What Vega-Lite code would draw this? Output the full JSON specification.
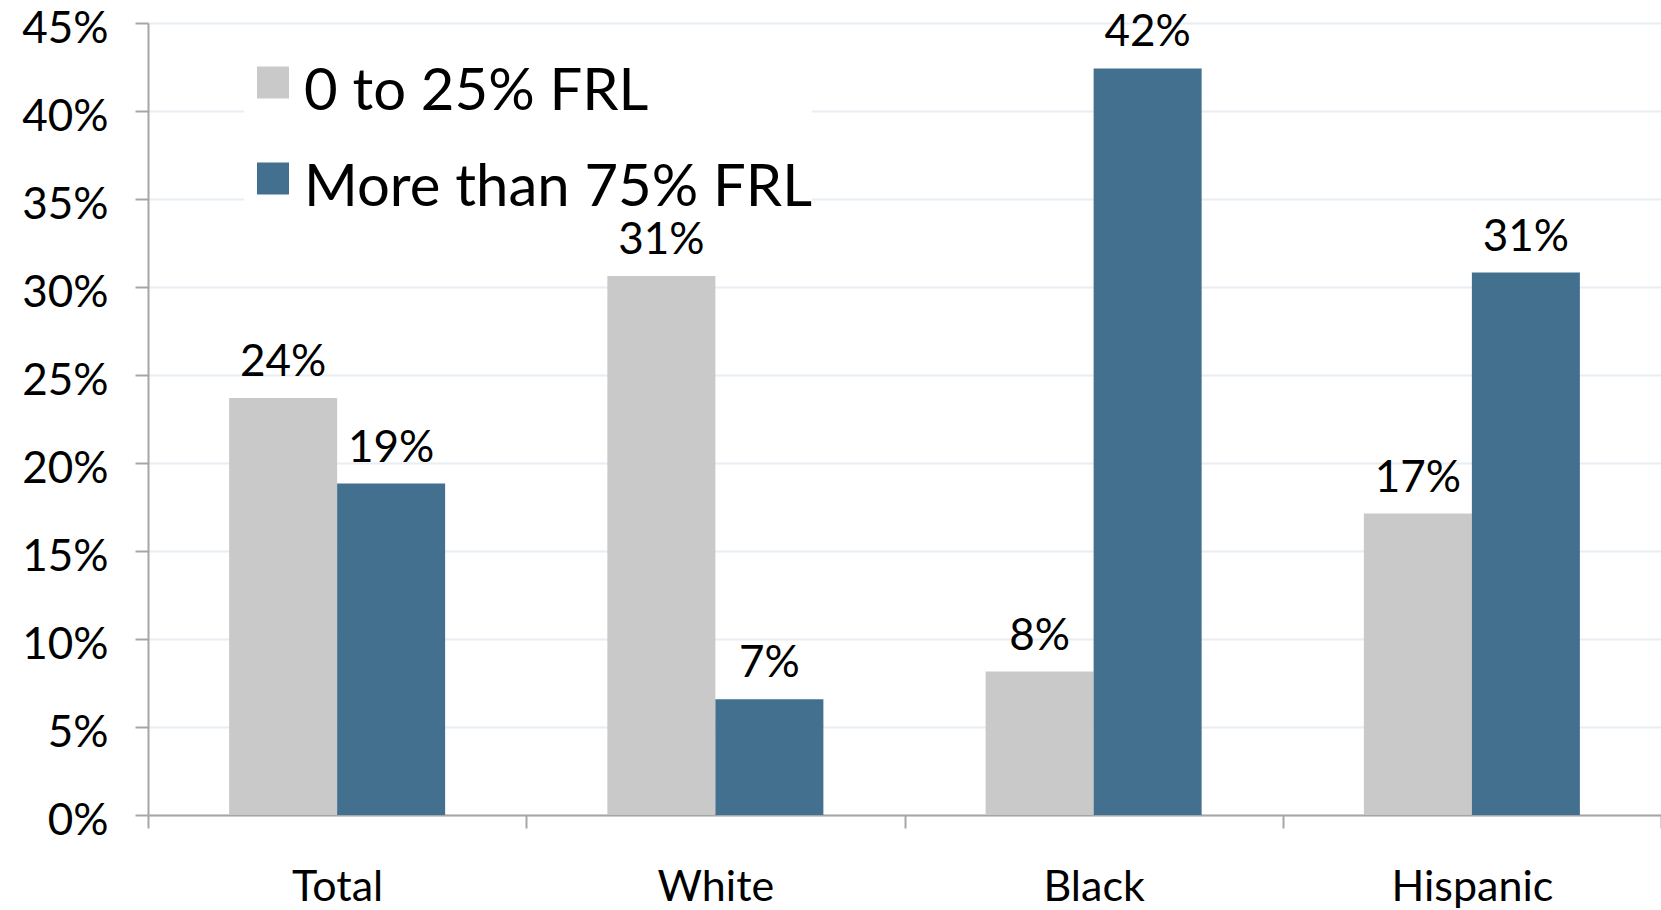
{
  "$schema": "https://vega.github.io/schema/vega-lite/v6.json",
  "width": 1513,
  "height": 792,
  "autosize": {"type": "none"},
  "padding": {"left": 148, "top": 23, "right": 0, "bottom": 95},
  "background": "white",
  "config": {
    "font": "Lato",
    "view": {"stroke": null}
  },
  "data": {
    "values": [
      {"group": "Total", "series": "0 to 25% FRL", "value": 0.2370},
      {"group": "Total", "series": "More than 75% FRL", "value": 0.1883},
      {"group": "White", "series": "0 to 25% FRL", "value": 0.3062},
      {"group": "White", "series": "More than 75% FRL", "value": 0.0657},
      {"group": "Black", "series": "0 to 25% FRL", "value": 0.0815},
      {"group": "Black", "series": "More than 75% FRL", "value": 0.4242},
      {"group": "Hispanic", "series": "0 to 25% FRL", "value": 0.1713},
      {"group": "Hispanic", "series": "More than 75% FRL", "value": 0.3082}
    ]
  },
  "encoding": {
    "x": {
      "field": "group",
      "type": "nominal",
      "sort": ["Total", "White", "Black", "Hispanic"],
      "scale": {"paddingInner": 0, "paddingOuter": 0},
      "axis": {
        "title": null,
        "labelAngle": 0,
        "labelFontSize": 43,
        "labelColor": "#000000",
        "labelPadding": 38,
        "tickBand": "extent",
        "tickSize": 13,
        "tickColor": "#a6a6a6",
        "tickWidth": 2,
        "domainColor": "#a6a6a6",
        "domainWidth": 2,
        "grid": false
      }
    },
    "xOffset": {
      "field": "series",
      "type": "nominal",
      "sort": ["0 to 25% FRL", "More than 75% FRL"],
      "scale": {"paddingInner": 0, "paddingOuter": 0.751}
    },
    "y": {
      "field": "value",
      "type": "quantitative",
      "scale": {"domain": [0, 0.45], "nice": false},
      "axis": {
        "title": null,
        "format": ".0%",
        "values": [0, 0.05, 0.1, 0.15, 0.2, 0.25, 0.3, 0.35, 0.4, 0.45],
        "labelFontSize": 44,
        "labelColor": "#000000",
        "labelPadding": 27,
        "labelOffset": 6,
        "tickSize": 13,
        "tickColor": "#a6a6a6",
        "tickWidth": 2,
        "domainColor": "#a6a6a6",
        "domainWidth": 2,
        "grid": true,
        "gridColor": "#e8eef3",
        "gridWidth": 2
      }
    }
  },
  "layer": [
    {
      "mark": {"type": "bar"},
      "encoding": {
        "color": {
          "field": "series",
          "type": "nominal",
          "scale": {
            "domain": ["0 to 25% FRL", "More than 75% FRL"],
            "range": ["#c9c9c9", "#43708e"]
          },
          "legend": {
            "title": null,
            "orient": "none",
            "legendX": 96,
            "legendY": 41,
            "symbolType": "M-1,-1.66H1V0.34H-1Z",
            "symbolSize": 1024,
            "symbolStrokeWidth": 0,
            "labelFontSize": 58,
            "labelColor": "#000000",
            "labelOffset": 2,
            "labelLimit": 800,
            "rowPadding": 38,
            "padding": 0,
            "fillColor": "white",
            "strokeColor": null
          }
        }
      }
    },
    {
      "mark": {"type": "text", "baseline": "alphabetic", "dy": -22, "fontSize": 44, "color": "#000000"},
      "encoding": {
        "text": {"field": "value", "type": "quantitative", "format": ".0%"}
      }
    }
  ]
}
